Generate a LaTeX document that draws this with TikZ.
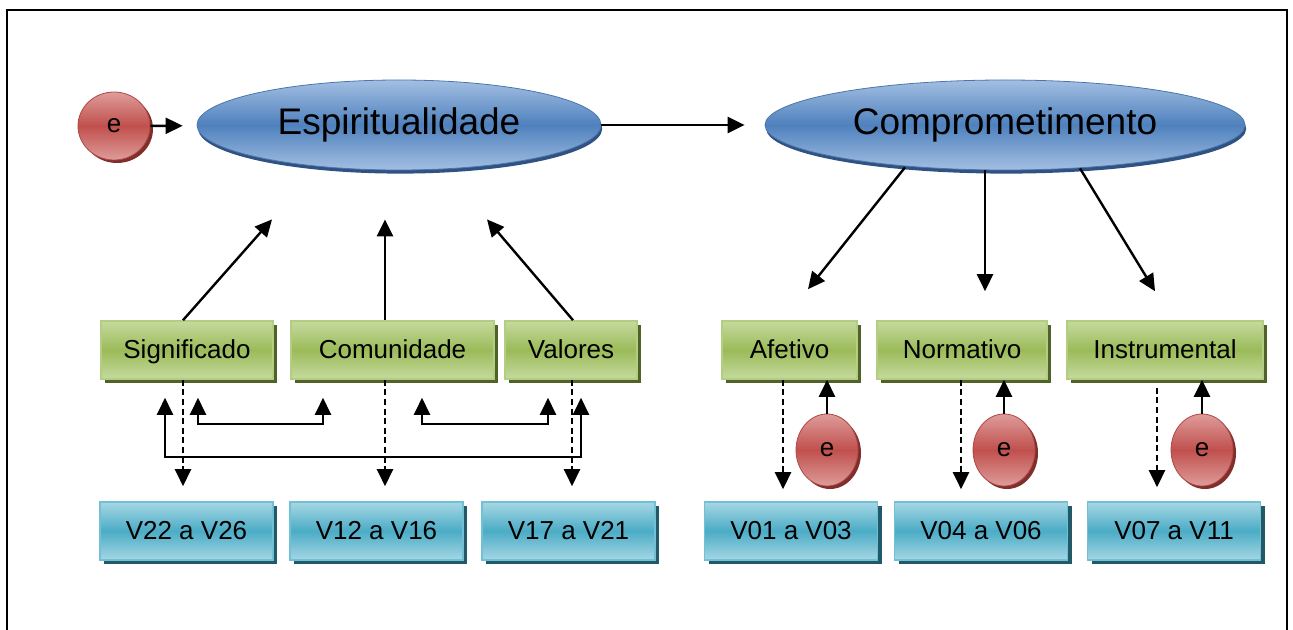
\documentclass[tikz,border=0pt]{standalone}
\usepackage{fontspec}
\setmainfont{Liberation Sans}
\usetikzlibrary{shapes.geometric,shadows,arrows.meta,calc}
\definecolor{blueL}{HTML}{A3BFE2}
\definecolor{blueM}{HTML}{4F81BD}
\definecolor{blueB}{HTML}{4A76AE}
\definecolor{blueS}{HTML}{2F5282}
\definecolor{greenL}{HTML}{C5DA9E}
\definecolor{greenM}{HTML}{9BBB59}
\definecolor{greenB}{HTML}{B3CE83}
\definecolor{greenS}{HTML}{4F6228}
\definecolor{cyanL}{HTML}{A6D7E4}
\definecolor{cyanM}{HTML}{4BACC6}
\definecolor{cyanB}{HTML}{72C0D6}
\definecolor{cyanS}{HTML}{215968}
\definecolor{redL}{HTML}{DE9C9A}
\definecolor{redM}{HTML}{C0504D}
\definecolor{redB}{HTML}{B04845}
\definecolor{redS}{HTML}{7F2E2C}
\tikzset{
  construct/.style={ellipse, inner sep=0pt, minimum height=45pt,
    top color=blueL, bottom color=blueL, middle color=blueM,
    draw=blueB, line width=0.4pt,
    drop shadow={shadow xshift=0.6pt, shadow yshift=-1.8pt, fill=blueS, opacity=1},
    font=\fontsize{18.5}{22}\selectfont},
  dimbox/.style={rectangle, inner sep=0pt, minimum height=29pt,
    text height=9.5pt, text depth=1.2pt,
    top color=greenL, bottom color=greenL, middle color=greenM,
    draw=greenB, line width=0.8pt,
    drop shadow={shadow xshift=2pt, shadow yshift=-2pt, fill=greenS, opacity=1},
    font=\fontsize{13}{15}\selectfont},
  varbox/.style={rectangle, inner sep=0pt, minimum height=29pt, minimum width=86.5pt,
    text height=9.5pt, text depth=1.2pt,
    top color=cyanL, bottom color=cyanL, middle color=cyanM,
    draw=cyanB, line width=0.8pt,
    drop shadow={shadow xshift=2pt, shadow yshift=-2pt, fill=cyanS, opacity=1},
    font=\fontsize{13}{15}\selectfont},
  errnode/.style={ellipse, inner sep=0pt,
    top color=redL, bottom color=redL, middle color=redM,
    draw=redB, line width=0.4pt,
    drop shadow={shadow xshift=1.5pt, shadow yshift=-1.5pt, fill=redS, opacity=1},
    font=\fontsize{13}{15}\selectfont},
  arr/.style={line width=1.2pt, -{Triangle[length=8.5pt,width=8pt]}},
  darr/.style={line width=1.2pt, dash pattern=on 3pt off 1.8pt, -{Triangle[length=8.5pt,width=8pt]}},
  corr/.style={line width=1.2pt, {Triangle[length=8.5pt,width=8pt]}-{Triangle[length=8.5pt,width=8pt]}},
}
\begin{document}
\begin{tikzpicture}[x=0.5pt,y=-0.5pt]
\useasboundingbox (0,0) rectangle (1293,630);
% frame
\draw[line width=1.4pt] (7,640) -- (7,10) -- (1287,10) -- (1287,640);

% constructs
\node[construct, minimum width=202pt] (esp) at (399,125) {Espiritualidade};
\node[construct, minimum width=240pt] (comp) at (1005,125) {Comprometimento};
\node[errnode, minimum width=36pt, minimum height=34pt] (e0) at (114,126) {e};

% dimensions
\node[dimbox, minimum width=86pt] (sig) at (187,350) {Significado};
\node[dimbox, minimum width=101.5pt] (com) at (392.5,350) {Comunidade};
\node[dimbox, minimum width=66pt] (val) at (571,350) {Valores};
\node[dimbox, minimum width=67.5pt] (afe) at (789.5,350) {Afetivo};
\node[dimbox, minimum width=85pt] (nor) at (962,350) {Normativo};
\node[dimbox, minimum width=98pt] (ins) at (1165,350) {Instrumental};

% variables
\node[varbox] (v22) at (186.5,531) {V22 a V26};
\node[varbox] (v12) at (376.5,531) {V12 a V16};
\node[varbox] (v17) at (568.5,531) {V17 a V21};
\node[varbox] (v01) at (791,531) {V01 a V03};
\node[varbox] (v04) at (981,531) {V04 a V06};
\node[varbox] (v07) at (1174,531) {V07 a V11};

% error terms
\node[errnode, minimum width=31pt, minimum height=36pt] (ea) at (827,450) {e};
\node[errnode, minimum width=31pt, minimum height=36pt] (eb) at (1004,450) {e};
\node[errnode, minimum width=31pt, minimum height=36pt] (ec) at (1202,450) {e};

% main arrows
\draw[arr, shorten >=7pt] (e0) -- (esp);
\draw[arr, shorten >=10pt] (esp) -- (comp);

% dimensions -> Espiritualidade
\draw[arr] ($(sig.north)+(-4,0)$) -- ($(esp.south)+(-127,49)$);
\draw[arr] ($(com.north)+(-7.5,0)$) -- ($(esp.south)+(-14,49)$);
\draw[arr] ($(val.north)+(2,0)$) -- ($(esp.south)+(88,49)$);

% Comprometimento -> dimensions
\draw[arr] ($(comp.south)+(-100,-3)$) -- ($(afe.north)+(18.5,-31)$);
\draw[arr] ($(comp.south)+(-20,0)$) -- ($(nor.north)+(23,-29)$);
\draw[arr] ($(comp.south)+(75,-2)$) -- ($(ins.north)+(-10,-29)$);

% dashed to variables
\draw[darr] ($(sig.south)+(-4,0)$) -- ($(v22.north)+(-3.5,-15)$);
\draw[darr] ($(com.south)+(-7.5,0)$) -- ($(v12.north)+(8.5,-15)$);
\draw[darr] ($(val.south)+(1,0)$) -- ($(v17.north)+(3.5,-15)$);
\draw[darr] ($(afe.south)+(-6.5,0)$) -- ($(v01.north)+(-8,-12)$);
\draw[darr] ($(nor.south)+(-1,0)$) -- ($(v04.north)+(-20,-12)$);
\draw[darr] ($(ins.south)+(-8,8)$) -- ($(v07.north)+(-17,-14)$);

% error arrows
\draw[arr] (ea.north) -- (ea.north |- afe.south);
\draw[arr] (eb.north) -- (eb.north |- nor.south);
\draw[arr] (ec.north) -- (ec.north |- ins.south);

% correlations
\coordinate (k1a) at ($(sig.south)+(11,18)$);
\coordinate (k1b) at ($(com.south)+(-69.5,18)$);
\coordinate (k2a) at ($(com.south)+(29.5,18)$);
\coordinate (k2b) at ($(val.south)+(-23,18)$);
\coordinate (k3a) at ($(sig.south)+(-22,18)$);
\coordinate (k3b) at ($(val.south)+(10,18)$);
\draw[corr] (k1a) -- ($(k1a)+(0,26)$) -| (k1b);
\draw[corr] (k2a) -- ($(k2a)+(0,26)$) -| (k2b);
\draw[corr] (k3a) -- ($(k3a)+(0,59)$) -| (k3b);
\end{tikzpicture}
\end{document}
